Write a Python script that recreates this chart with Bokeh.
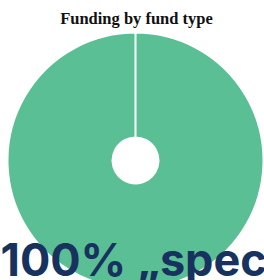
import math
from bokeh.plotting import figure
from bokeh.models import Range1d, ColumnDataSource
from bokeh.core.properties import value
from bokeh.embed import file_html
from bokeh.resources import INLINE

title_text = "Funding by fund type"
fund_types = ["„spec"]
shares = [100]

total = sum(shares)
starts, ends, labels = [], [], []
acc = 0.0
for s, n in zip(shares, fund_types):
    a0 = math.pi / 2 - 2 * math.pi * acc / total
    acc += s
    a1 = math.pi / 2 - 2 * math.pi * acc / total + 1e-6
    starts.append(a0)
    ends.append(a1)
    labels.append(f"{s}% {n}")

W, H = 264, 280
src = ColumnDataSource(dict(start=starts, end=ends, label=labels,
                            x=[135] * len(shares), y=[H - 160] * len(shares)))

p = figure(width=W, height=H, output_backend="svg", toolbar_location=None,
           x_range=Range1d(0, W), y_range=Range1d(0, H),
           min_border=0, outline_line_color=None)
p.axis.visible = False
p.grid.visible = False
p.background_fill_color = "white"
p.border_fill_color = "white"

p.annular_wedge(x="x", y="y", inner_radius=23, outer_radius=128,
                inner_radius_units="screen", outer_radius_units="screen",
                start_angle="start", end_angle="end", direction="clock",
                fill_color="#5bbf95", line_color="white", line_width=2,
                source=src)

p.text(x=[136], y=[H - 17.5], text=[title_text], text_align="center",
       text_baseline="alphabetic", text_font=value("Liberation Serif"),
       text_font_style="bold", text_font_size="16.5px", text_color="#111111")

p.text(x=[0], y=[H - 258.5], text=[labels[0]], text_align="left",
       text_baseline="alphabetic", text_font=value("Inter"),
       text_font_style="bold", text_font_size="45px", text_color="#17325e")

open("out.html", "w").write(file_html(p, INLINE))
